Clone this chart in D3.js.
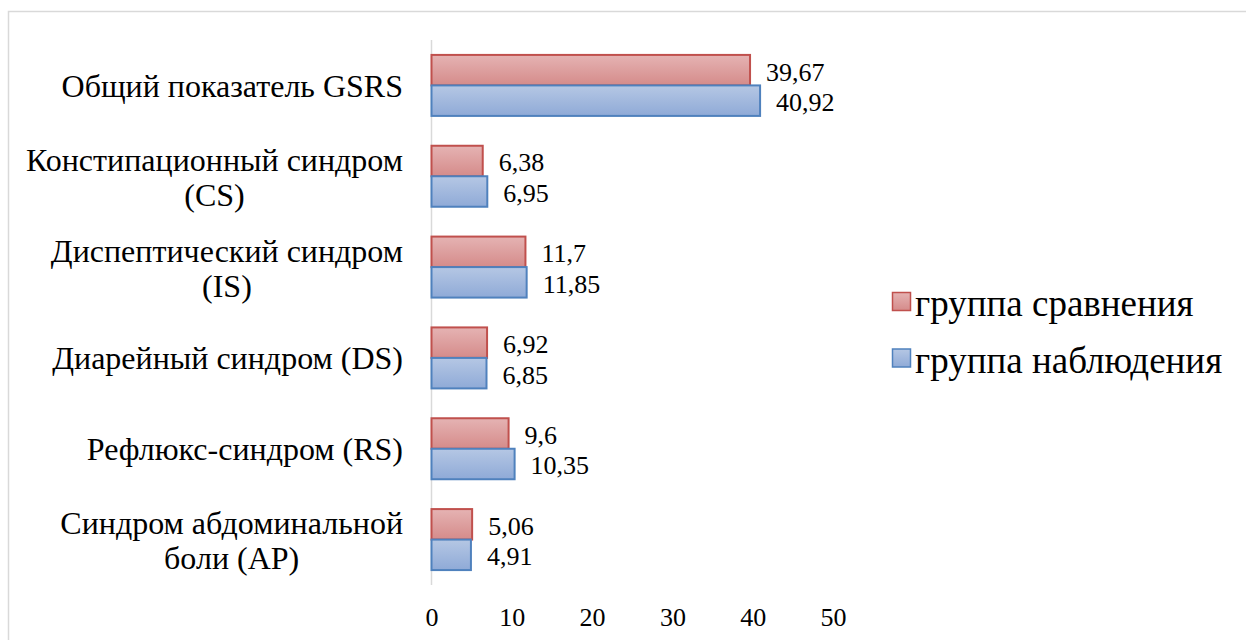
<!doctype html>
<html lang="en">
<head>
  <meta charset="utf-8">
  <title>GSRS</title>
  <style>
  body{
    margin: 0;
    background: #fff;
  }
  </style>
  <script src="https://d3js.org/d3.v7.min.js"></script>
</head>
<body>
  <div id="chart"></div>
  <script>
  // categories, top to bottom (each entry = lines of the label)
  var categories = [
    ["Общий показатель GSRS"],
    ["Констипационный синдром", "(CS)"],
    ["Диспептический синдром", "(IS)"],
    ["Диарейный синдром (DS)"],
    ["Рефлюкс-синдром (RS)"],
    ["Синдром абдоминальной", "боли (AP)"]
  ];
  var seriesNames = ["группа сравнения", "группа наблюдения"];
  var comparison = [39.67, 6.38, 11.7, 6.92, 9.6, 5.06];
  var observation = [40.92, 6.95, 11.85, 6.85, 10.35, 4.91];
  var valueTicks = [0, 10, 20, 30, 40, 50];

  var FONT = "Liberation Serif";
  var W = 1246, H = 640;
  var svg = d3.select("#chart").append("svg")
    .attr("width", W)
    .attr("height", H);

  // gradients for the bars
  var defs = svg.append("defs");
  function grad(id, c1, c2) {
    var g = defs.append("linearGradient").attr("id", id)
      .attr("x1", 0).attr("y1", 0).attr("x2", 0).attr("y2", 1);
    g.append("stop").attr("offset", "0%").attr("stop-color", c1);
    g.append("stop").attr("offset", "100%").attr("stop-color", c2);
  }
  grad("gRed", "#e5b3b3", "#d58b8a");
  grad("gBlue", "#b5c7e4", "#8faad7");

  var colors = [
    {fill: "url(#gRed)", stroke: "#c0504d"},
    {fill: "url(#gBlue)", stroke: "#4f81bd"}
  ];

  // chart frame
  svg.append("rect")
    .attr("x", 8.5).attr("y", 11.5)
    .attr("width", W + 20).attr("height", H + 20)
    .attr("fill", "none")
    .attr("stroke", "#d9d9d9")
    .attr("stroke-width", 1.5);

  var x = d3.scaleLinear().domain([0, 50]).range([431.5, 833]);
  var y = d3.scaleBand().domain(d3.range(categories.length)).range([40, 585]);
  var barH = 30.5;

  // axis line
  svg.append("line")
    .attr("x1", x(0)).attr("x2", x(0))
    .attr("y1", 40).attr("y2", 585)
    .attr("stroke", "#d9d9d9")
    .attr("stroke-width", 1.5);

  // x tick labels
  var xAxis = d3.axisBottom(x).tickValues(valueTicks).tickSize(0).tickPadding(0)
    .tickFormat(d3.format("d"));
  var gx = svg.append("g").attr("transform", "translate(0,608)").call(xAxis);
  gx.select(".domain").remove();
  gx.selectAll("text")
    .attr("font-family", FONT)
    .attr("font-size", 26)
    .attr("fill", "#000");

  var fmt = function(v) { return String(v).replace(".", ","); };
  var series = [comparison, observation];

  series.forEach(function(vals, s) {
    var g = svg.append("g");
    g.selectAll("rect")
      .data(vals)
      .enter()
      .append("rect")
      .attr("x", x(0))
      .attr("y", function(d, i) { return y(i) + y.bandwidth() / 2 - barH + s * barH; })
      .attr("width", function(d) { return x(d) - x(0); })
      .attr("height", barH)
      .attr("fill", colors[s].fill)
      .attr("stroke", colors[s].stroke)
      .attr("stroke-width", 2);

    g.selectAll("text")
      .data(vals)
      .enter()
      .append("text")
      .attr("x", function(d) { return x(d) + 16; })
      .attr("y", function(d, i) { return y(i) + y.bandwidth() / 2 - barH / 2 + s * barH; })
      .attr("dy", "0.4em")
      .attr("font-family", FONT)
      .attr("font-size", 26)
      .text(function(d) { return fmt(d); });
  });

  // category labels: block right-aligned, lines centered in the block
  var right = 403, lineH = 35;
  categories.forEach(function(lines, i) {
    var g = svg.append("g");
    var cy = y(i) + y.bandwidth() / 2 + (lines.length > 1 ? 1 : 0);
    var texts = lines.map(function(l, k) {
      return g.append("text")
        .attr("font-family", FONT)
        .attr("font-size", 32)
        .attr("y", cy + (k - (lines.length - 1) / 2) * lineH)
        .attr("dy", "0.35em")
        .attr("text-anchor", "middle")
        .text(l);
    });
    var maxW = d3.max(texts, function(t) { return t.node().getComputedTextLength(); });
    texts.forEach(function(t) { t.attr("x", right - maxW / 2); });
  });

  // legend
  var legend = svg.append("g");
  seriesNames.forEach(function(name, s) {
    var ly = 302 + s * 56.5;
    legend.append("rect")
      .attr("x", 892.5).attr("y", ly - 9.5)
      .attr("width", 18).attr("height", 18)
      .attr("fill", colors[s].fill)
      .attr("stroke", colors[s].stroke)
      .attr("stroke-width", 1.5);
    legend.append("text")
      .attr("x", 915).attr("y", ly + 1.5)
      .attr("dy", "0.35em")
      .attr("font-family", FONT)
      .attr("font-size", 37)
      .text(name);
  });
  </script>
</body>
</html>
